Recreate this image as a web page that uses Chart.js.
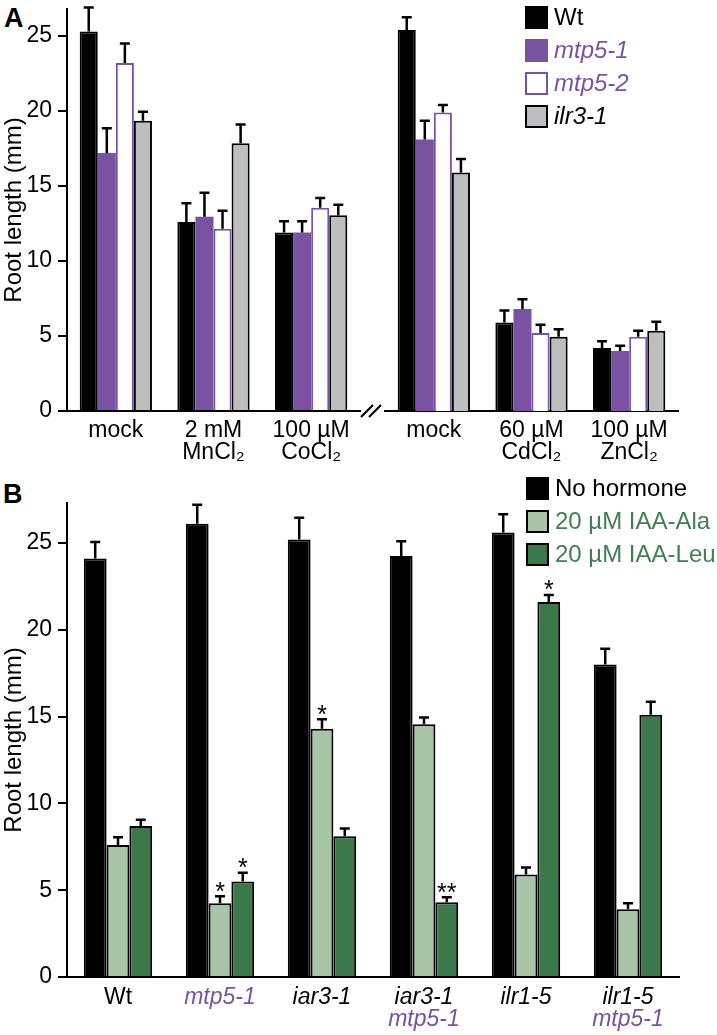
<!DOCTYPE html>
<html>
<head>
<meta charset="utf-8">
<script src="https://cdn.jsdelivr.net/npm/chart.js@4.4.1/dist/chart.umd.min.js"></script>
<style>
  html, body { margin: 0; padding: 0; background: #fff; }
  body { width: 717px; height: 1035px; position: relative; overflow: hidden; font-family: 'Liberation Sans', Arial, sans-serif; }
  canvas { position: absolute; }
  .panel { position: absolute; font-weight: bold; font-size: 27px; color: #000; line-height: 1; }
</style>
</head>
<body>
<div class="panel" style="left:4px; top:5px;">A</div>
<div class="panel" style="left:3px; top:481px;">B</div>
<canvas id="a1" width="385" height="470" style="left:0; top:0;"></canvas>
<canvas id="a2" width="337" height="470" style="left:380px; top:0;"></canvas>
<canvas id="b" width="717" height="565" style="left:0; top:470px;"></canvas>
<script>
// ---------- DATA: panel A ----------
const categoriesA = [['mock'], ['2 mM', 'MnCl\u2082'], ['100 \u00b5M', 'CoCl\u2082'],
                     ['mock'], ['60 \u00b5M', 'CdCl\u2082'], ['100 \u00b5M', 'ZnCl\u2082']];
const seriesA = ['Wt', 'mtp5-1', 'mtp5-2', 'ilr3-1'];
const wtA      = [25.3, 12.6, 11.9, 25.4, 5.9, 4.2];
const wtErrA   = [1.6, 1.25, 0.75, 0.85, 0.8, 0.45];
const mtp51A   = [17.2, 12.95, 11.9, 18.1, 6.8, 4.0];
const mtp51ErrA= [1.65, 1.6, 0.75, 1.25, 0.65, 0.35];
const mtp52A   = [23.2, 12.15, 13.55, 19.9, 5.2, 4.95];
const mtp52ErrA= [1.3, 1.2, 0.65, 0.5, 0.55, 0.4];
const ilr31A   = [19.35, 17.85, 13.05, 15.9, 4.95, 5.35];
const ilr31ErrA= [0.6, 1.25, 0.7, 0.9, 0.5, 0.6];
const yTicksA  = [0, 5, 10, 15, 20, 25];

// ---------- DATA: panel B ----------
const categoriesB = [['Wt'], ['mtp5-1'], ['iar3-1'], ['iar3-1', 'mtp5-1'], ['ilr1-5'], ['ilr1-5', 'mtp5-1']];
const seriesB = ['No hormone', '20 \u00b5M IAA-Ala', '20 \u00b5M IAA-Leu'];
const noHormB    = [24.1, 26.1, 25.2, 24.25, 25.6, 18.0];
const noHormErrB = [0.95, 1.1, 1.25, 0.85, 1.05, 0.9];
const alaB       = [7.6, 4.25, 14.3, 14.55, 5.9, 3.9];
const alaErrB    = [0.45, 0.4, 0.55, 0.4, 0.4, 0.35];
const leuB       = [8.7, 5.5, 8.1, 4.3, 21.6, 15.1];
const leuErrB    = [0.35, 0.5, 0.45, 0.3, 0.4, 0.75];
const alaStarsB  = ['', '*', '*', '', '', ''];
const leuStarsB  = ['', '*', '', '**', '*', ''];
const yTicksB    = [0, 5, 10, 15, 20, 25];

// ---------- STYLE ----------
const FONT = "'Liberation Sans', Arial, sans-serif";
const PURPLE = '#7a52a2';
const GRAY = '#bcbec0';
const LGREEN = '#a9c5a7';
const DGREEN = '#3c794a';
const GTEXT = '#3f7f51';
const TICK_SIZE = 23;
const LEG_SIZE = 24;

const errorBars = {
  id: 'errorBars',
  afterDatasetsDraw(chart) {
    const ctx = chart.ctx, y = chart.scales.y;
    chart.data.datasets.forEach((ds, i) => {
      const meta = chart.getDatasetMeta(i);
      meta.data.forEach((bar, j) => {
        const yt = y.getPixelForValue(ds.data[j] + ds.errors[j]);
        ctx.save();
        ctx.strokeStyle = '#000';
        ctx.lineWidth = 2.5;
        ctx.beginPath();
        ctx.moveTo(bar.x, bar.y);
        ctx.lineTo(bar.x, yt);
        ctx.moveTo(bar.x - 5, yt);
        ctx.lineTo(bar.x + 5, yt);
        ctx.stroke();
        if (ds.stars && ds.stars[j]) {
          ctx.fillStyle = '#000';
          ctx.font = '25px ' + FONT;
          ctx.textAlign = 'center';
          ctx.textBaseline = 'top';
          ctx.fillText(ds.stars[j], bar.x, yt - 16);
        }
        ctx.restore();
      });
    });
  }
};

const legendPlugin = {
  id: 'boxLegend',
  afterDraw(chart, args, opts) {
    if (!opts || !opts.show) return;
    const ctx = chart.ctx;
    chart.data.datasets.forEach((ds, i) => {
      const cy = opts.y + i * opts.dy;
      ctx.save();
      ctx.fillStyle = ds.backgroundColor;
      ctx.fillRect(opts.x, cy - 11, 23, 23);
      ctx.strokeStyle = ds.borderColor;
      ctx.lineWidth = 2;
      ctx.strokeRect(opts.x + 1, cy - 10, 21, 21);
      ctx.fillStyle = ds.legendColor;
      ctx.font = (ds.legendItalic ? 'italic ' : '') + LEG_SIZE + 'px ' + FONT;
      ctx.textAlign = 'left';
      ctx.textBaseline = 'middle';
      ctx.fillText(ds.label, opts.x + 29, cy + 1);
      ctx.restore();
    });
  }
};

const breakMark = {
  id: 'breakMark',
  afterDraw(chart, args, opts) {
    if (!opts || !opts.show) return;
    const ctx = chart.ctx, b = chart.chartArea.bottom;
    ctx.save();
    ctx.strokeStyle = '#000';
    ctx.lineWidth = 2.2;
    ctx.beginPath();
    ctx.moveTo(opts.x, b + 6); ctx.lineTo(opts.x + 12, b - 6);
    ctx.moveTo(opts.x + 8, b + 6); ctx.lineTo(opts.x + 20, b - 6);
    ctx.stroke();
    ctx.restore();
  }
};

const labelsB = {
  id: 'labelsB',
  afterDraw(chart, args, opts) {
    if (!opts || !opts.show) return;
    const ctx = chart.ctx, x = chart.scales.x, b = chart.chartArea.bottom;
    chart.data.labels.forEach((lines, i) => {
      const cx = x.getPixelForTick(i);
      lines.forEach((t, k) => {
        const isMtp = t === 'mtp5-1';
        const italic = t !== 'Wt';
        ctx.save();
        ctx.fillStyle = isMtp ? PURPLE : '#000';
        ctx.font = (italic ? 'italic ' : '') + TICK_SIZE + 'px ' + FONT;
        ctx.textAlign = 'center';
        ctx.textBaseline = 'middle';
        ctx.fillText(t, cx, b + 21 + k * 22);
        ctx.restore();
      });
    });
  }
};

Chart.register(errorBars, legendPlugin, breakMark, labelsB);

function datasetsA(from, to) {
  const s = (arr) => arr.slice(from, to);
  return [
    { label: seriesA[0], data: s(wtA), errors: s(wtErrA), backgroundColor: '#000', borderColor: '#000', borderWidth: 2, legendColor: '#000', legendItalic: false },
    { label: seriesA[1], data: s(mtp51A), errors: s(mtp51ErrA), backgroundColor: PURPLE, borderColor: PURPLE, borderWidth: 0, legendColor: PURPLE, legendItalic: true },
    { label: seriesA[2], data: s(mtp52A), errors: s(mtp52ErrA), backgroundColor: '#fff', borderColor: PURPLE, borderWidth: 2, legendColor: PURPLE, legendItalic: true },
    { label: seriesA[3], data: s(ilr31A), errors: s(ilr31ErrA), backgroundColor: GRAY, borderColor: '#000', borderWidth: 2, legendColor: '#000', legendItalic: true }
  ];
}

function yScale(max, show, ticks) {
  return {
    type: 'linear', min: 0, max: max, display: show,
    afterFit: (sc) => { sc.width = show ? 67 : 0; sc.paddingTop = 0; sc.paddingBottom = 0; },
    afterBuildTicks: (sc) => { sc.ticks = ticks.map(v => ({ value: v })); },
    ticks: { color: '#000', font: { family: FONT, size: TICK_SIZE }, padding: 6 },
    grid: { drawOnChartArea: false, drawTicks: true, tickLength: 9, color: '#000', lineWidth: 2 },
    border: { display: true, color: '#000', width: 2 },
    title: { display: true, text: 'Root length (mm)', color: '#000', font: { family: FONT, size: LEG_SIZE }, padding: 0 }
  };
}

function xScale(h, showTicks) {
  return {
    type: 'category',
    afterFit: (sc) => { sc.height = h; sc.paddingLeft = 0; sc.paddingRight = 0; },
    ticks: { display: showTicks, color: '#000', font: { family: FONT, size: TICK_SIZE, lineHeight: '22px' }, padding: 9, maxRotation: 0, autoSkip: false },
    grid: { display: false, drawTicks: false },
    border: { display: true, color: '#000', width: 2 }
  };
}

const common = {
  responsive: false, animation: false, devicePixelRatio: 1,
  datasets: { bar: { barPercentage: 1.0, categoryPercentage: 0.74, borderSkipped: 'start' } },
};

new Chart(document.getElementById('a1'), {
  type: 'bar',
  data: { labels: categoriesA.slice(0, 3), datasets: datasetsA(0, 3) },
  options: Object.assign({}, common, {
    layout: { padding: { top: 9, right: 25, left: 0, bottom: 0 } },
    scales: { x: xScale(59, true), y: yScale(26.8, true, yTicksA) },
    plugins: { legend: { display: false }, tooltip: { enabled: false }, breakMark: { show: true, x: 361 } }
  })
});

new Chart(document.getElementById('a2'), {
  type: 'bar',
  data: { labels: categoriesA.slice(3, 6), datasets: datasetsA(3, 6) },
  options: Object.assign({}, common, {
    layout: { padding: { top: 9, right: 39, left: 5, bottom: 0 } },
    scales: { x: xScale(59, true), y: yScale(26.8, false, yTicksA) },
    plugins: { legend: { display: false }, tooltip: { enabled: false }, boxLegend: { show: true, x: 145, y: 17, dy: 33 } }
  })
});

new Chart(document.getElementById('b'), {
  type: 'bar',
  data: {
    labels: categoriesB,
    datasets: [
      { label: seriesB[0], data: noHormB, errors: noHormErrB, backgroundColor: '#000', borderColor: '#000', borderWidth: 2, legendColor: '#000', legendItalic: false },
      { label: seriesB[1], data: alaB, errors: alaErrB, stars: alaStarsB, backgroundColor: LGREEN, borderColor: '#000', borderWidth: 2, legendColor: GTEXT, legendItalic: false },
      { label: seriesB[2], data: leuB, errors: leuErrB, stars: leuStarsB, backgroundColor: DGREEN, borderColor: '#000', borderWidth: 2, legendColor: GTEXT, legendItalic: false }
    ]
  },
  options: Object.assign({}, common, {
    datasets: { bar: { barPercentage: 1.0, categoryPercentage: 0.67, borderSkipped: 'start' } },
    layout: { padding: { top: 33, right: 38, left: 0, bottom: 0 } },
    scales: { x: xScale(58, false), y: yScale(27.3, true, yTicksB) },
    plugins: { legend: { display: false }, tooltip: { enabled: false }, boxLegend: { show: true, x: 526, y: 18, dy: 33 }, labelsB: { show: true } }
  })
});
</script>
</body>
</html>
